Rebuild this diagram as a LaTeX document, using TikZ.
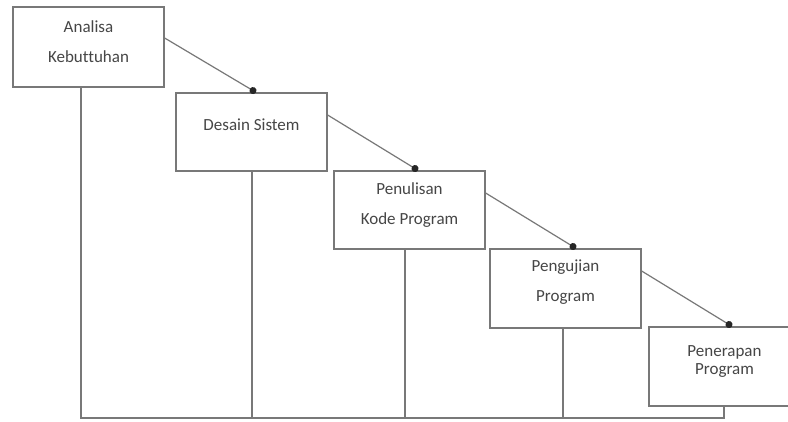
\documentclass[tikz,border=0pt]{standalone}
\usepackage{fontspec}
\setmainfont[Ligatures={NoCommon}]{Carlito}
\usetikzlibrary{arrows.meta}
\definecolor{linegray}{RGB}{120,120,120}
\definecolor{textgray}{RGB}{70,70,70}
\tikzstyle{block} = [rectangle, minimum width=151pt, minimum height=78pt, draw=linegray, line width=1.3pt, fill=white]
\tikzstyle{txt} = [align=center, text=textgray, font=\fontsize{17}{30}\selectfont]
\tikzstyle{arrow} = [draw=linegray, line width=1.2pt, -{Circle[length=7pt, color=black!85]}]
\tikzstyle{line} = [draw=linegray, line width=1.3pt]

\begin{document}
\begin{tikzpicture}[x=1pt, y=1pt]
\clip (0,0) rectangle (788,-421);
\fill[white] (0,0) rectangle (788,-421);

% Nodes
\node (analisa) [block, minimum height=80pt, label={[txt, yshift=5pt]center:Analisa\\Kebuttuhan}] at (88.5,-47) {};
\node (desain) [block, label={[txt, yshift=7pt]center:Desain Sistem}] at (251.5,-132) {};
\node (penulisan) [block, label={[txt, yshift=4.5pt]center:Penulisan\\Kode Program}] at (409.5,-210) {};
\node (pengujian) [block, minimum height=79pt, label={[txt, yshift=6pt]center:Pengujian\\Program}] at (565.5,-288.5) {};
\node (penerapan) [block, minimum height=79pt, label={[txt, yshift=5pt, font=\fontsize{17}{18}\selectfont]center:Penerapan\\Program}] at (724.5,-366.5) {};
\coordinate (bottom) at (0,-418);

% Arrows
\draw [arrow] ([yshift=9pt]analisa.east) -- ([xshift=4.5pt]desain.north);
\draw [arrow] ([yshift=17pt]desain.east) -- ([xshift=8.5pt]penulisan.north);
\draw [arrow] ([yshift=17pt]penulisan.east) -- ([xshift=10.5pt]pengujian.north);
\draw [arrow] ([yshift=17.5pt]pengujian.east) -- ([xshift=7.5pt]penerapan.north);

% Lines back to the start
\draw [line] ([xshift=-7.5pt]analisa.south) -- ([xshift=-7.5pt]analisa.south |- bottom)
  -- ([xshift=-0.5pt]penerapan.south |- bottom) -- ([xshift=-0.5pt]penerapan.south);
\draw [line] ([xshift=0.5pt]desain.south) -- ([xshift=0.5pt]desain.south |- bottom);
\draw [line] ([xshift=-4.5pt]penulisan.south) -- ([xshift=-4.5pt]penulisan.south |- bottom);
\draw [line] ([xshift=-2.5pt]pengujian.south) -- ([xshift=-2.5pt]pengujian.south |- bottom);

\end{tikzpicture}
\end{document}
